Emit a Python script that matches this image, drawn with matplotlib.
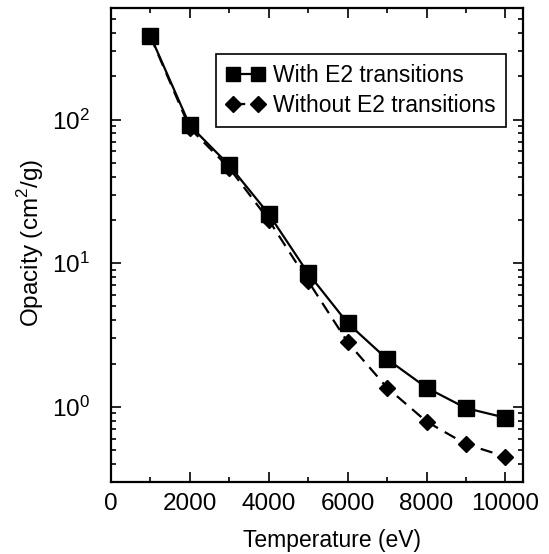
import matplotlib
matplotlib.use("Agg")
import matplotlib.pyplot as plt
from matplotlib.ticker import LogLocator, FixedLocator, NullFormatter

plt.rcParams['font.family'] = ['Liberation Sans', 'DejaVu Sans']
plt.rcParams['mathtext.fontset'] = 'custom'
plt.rcParams['mathtext.rm'] = 'Liberation Sans'

temperature = [1000, 2000, 3000, 4000, 5000, 6000, 7000, 8000, 9000, 10000]
with_e2 = [383, 91, 48, 22, 8.5, 3.83, 2.15, 1.36, 0.98, 0.84]
without_e2 = [380, 87, 46, 20, 7.5, 2.82, 1.36, 0.79, 0.55, 0.45]
x_ticks = [0, 2000, 4000, 6000, 8000, 10000]
labels = ["With E2 transitions", "Without E2 transitions"]

fig = plt.figure(figsize=(5.49, 5.54), dpi=100)
ax = fig.add_axes([0.202, 0.130, 0.751, 0.856])

ax.plot(temperature, with_e2, '-', color='black', lw=1.6, marker='s', ms=11,
        label=labels[0])
ax.plot(temperature, without_e2, '--', color='black', lw=1.6, marker='D', ms=8.5,
        dashes=(5.5, 3.5), label=labels[1])

ax.set_yscale('log')
ax.set_xlim(0, 10450)
ax.set_ylim(0.30, 600)

ax.xaxis.set_major_locator(FixedLocator(x_ticks))
ax.xaxis.set_minor_locator(FixedLocator([1000, 3000, 5000, 7000, 9000]))
ax.yaxis.set_major_locator(LogLocator(base=10, numticks=10))
ax.yaxis.set_minor_locator(LogLocator(base=10, subs=range(2, 10), numticks=20))
ax.yaxis.set_minor_formatter(NullFormatter())

ax.tick_params(which='both', direction='in', top=True, right=True, width=1.2,
               labelsize=17.5, colors='black')
ax.tick_params(which='major', length=7, pad=8)
ax.tick_params(which='minor', length=3.5)
ax.tick_params(axis='y', which='major', pad=15)
for s in ax.spines.values():
    s.set_linewidth(1.6)

ax.set_xlabel("Temperature (eV)", fontsize=16.5)
ax.xaxis.set_label_coords(0.536, -0.10)
ax.set_ylabel("Opacity (cm$^2$/g)", fontsize=17.5)
ax.yaxis.set_label_coords(-0.157, 0.505)

leg = ax.legend(loc='upper right', bbox_to_anchor=(0.959, 0.903), fontsize=16.5,
                numpoints=2, markerscale=0.9,
                handlelength=1.7, handletextpad=0.35, borderpad=0.45,
                labelspacing=0.3, fancybox=False, framealpha=1,
                edgecolor='black', borderaxespad=0)
leg.get_frame().set_linewidth(1.2)

fig.savefig("out.png", dpi=100)
